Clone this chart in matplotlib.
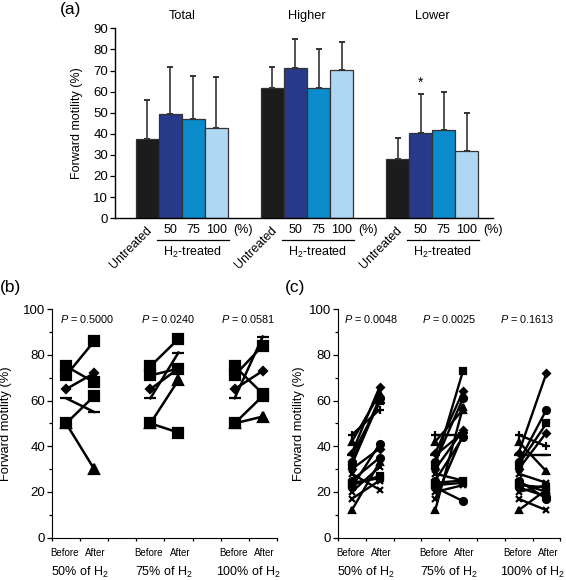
import numpy as np
import matplotlib
matplotlib.use("Agg")
import matplotlib.pyplot as plt
from matplotlib.lines import Line2D

plt.rcParams['font.family'] = ['Liberation Sans', 'DejaVu Sans']
plt.rcParams['mathtext.fontset'] = 'custom'
plt.rcParams['mathtext.rm'] = 'Liberation Sans'
plt.rcParams['mathtext.it'] = 'Liberation Sans:italic'

# ---- panel (a): mean forward motility with SD ----
groups = ["Total", "Higher", "Lower"]
conc_labels = ["50", "75", "100"]
means = {
    "Total":  [37.4, 49.5, 47.0, 42.6],
    "Higher": [61.8, 71.4, 61.6, 70.3],
    "Lower":  [28.0, 40.4, 41.7, 31.6],
}
sd_top = {
    "Total":  [56.0, 71.5, 67.2, 67.0],
    "Higher": [71.5, 85.2, 80.2, 83.6],
    "Lower":  [38.2, 58.8, 60.0, 49.8],
}
bar_colors = ["#1c1c1c", "#283a8a", "#0a8bcb", "#afd6f3"]
star_value = 64.2   # asterisk over Lower / 50 %

# ---- panel (b): before / after per donor ----
b_before = [75, 71, 65, 61, 50, 50]
b_after = {
    "50":  [68, 86, 72, 55, 62, 30],
    "75":  [87, 74, 74, 81, 46, 69],
    "100": [63, 84, 73, 88, 62, 53],
}
b_markers = ['s', 's', 'D', '_', 's', '^']
b_pvals = ["0.5000", "0.0240", "0.0581"]

# ---- panel (c) ----
c_before = [45, 42, 37, 36, 33, 32, 30, 28, 25, 24, 23, 22, 20, 17, 12]
c_after = {
    "50":  [56, 63, 66, 59, 61, 60, 39, 21, 35, 26, 27, 41, 31, 25, 33],
    "75":  [45, 56, 64, 46, 61, 73, 47, 25, 44, 25, 24, 16, 23, 45, 57],
    "100": [40, 29, 72, 36, 56, 50, 46, 24, 17, 20, 22, 18, 23, 12, 21],
}
c_markers = ['+', '^', 'D', '_', 'o', 's', 'D', 'x', 'o', 's', 's', 'o', 'x', 'x', '^']
c_pvals = ["0.0048", "0.0025", "0.1613"]

# relative marker sizes (diamonds are drawn smaller in the original)
size_scale = {'s': 1.0, 'D': 0.7, '^': 1.0, '_': 1.3, 'o': 1.0, 'x': 0.9, '+': 1.1}

fig = plt.figure(figsize=(5.66, 5.80), dpi=100)

# ================= (a) =================
ax = fig.add_axes([0.203, 0.624, 0.668, 0.327])
group_step = 5.435
first_left = 0.913
tr = ax.get_xaxis_transform()
for g, name in enumerate(groups):
    start = first_left + g * group_step
    xs = start + 0.5 + np.arange(4)
    ax.bar(xs, means[name], width=1.0, color=bar_colors, edgecolor="#333333",
           linewidth=0.9, zorder=2)
    err = np.array(sd_top[name]) - np.array(means[name])
    ax.errorbar(xs, means[name], yerr=[np.zeros(4), err], fmt='none',
                ecolor="#333333", elinewidth=1.2, capsize=2.2, capthick=1.4, zorder=1)
    ax.text(start + 2.0, 96, name, ha='center', va='center', fontsize=9.2)
    ax.text(start + 0.8, -0.035, "Untreated", rotation=45, ha='right', va='top',
            fontsize=8.8, transform=tr)
    for k, lab in enumerate(conc_labels):
        ax.text(xs[k + 1], -0.063, lab, ha='center', va='center', fontsize=9,
                transform=tr)
    ax.text(start + 4.65, -0.063, "(%)", ha='center', va='center', fontsize=9,
            transform=tr)
    ax.add_line(Line2D([start + 0.9, start + 4.05], [-0.113, -0.113], color='black',
                       lw=0.9, transform=tr, clip_on=False))
    ax.text(start + 2.45, -0.18, "H$_2$-treated", ha='center', va='center',
            fontsize=9, transform=tr)
ax.text(xs[1], star_value, "*", ha='center', va='center', fontsize=10)

ax.set_xlim(0, 16.43)
ax.set_ylim(0, 90)
ax.set_yticks(np.arange(0, 91, 10))
ax.set_xticks([])
ax.tick_params(axis='y', labelsize=9.5, length=3.5, width=0.9, direction='out', pad=1.5)
for s in ['top', 'right']:
    ax.spines[s].set_visible(False)
for s in ['left', 'bottom']:
    ax.spines[s].set_linewidth(1.0)
ax.set_ylabel("Forward motility (%)", fontsize=9)
ax.yaxis.set_label_coords(-0.085, 0.5)


def pair_panel(ax, before, after, markers, pvals, pvals_x, ms, lw, ylab_x):
    tr = ax.get_xaxis_transform()
    for gi, key in enumerate(["50", "75", "100"]):
        x0 = 0.5 + 3 * gi
        for i in range(len(before)):
            m = markers[i]
            ax.plot([x0, x0 + 1], [before[i], after[key][i]], color='black', lw=lw,
                    marker=m, ms=ms * size_scale[m], mew=1.6, mfc='black', mec='black',
                    clip_on=False, zorder=3)
        ax.text(x0 - 0.05, -0.067, "Before", ha='center', va='center', fontsize=7,
                transform=tr)
        ax.text(x0 + 1.05, -0.067, "After", ha='center', va='center', fontsize=7,
                transform=tr)
        ax.text(x0 + 0.5, -0.154, key + "% of H$_2$", ha='center', va='center',
                fontsize=9, transform=tr)
        ax.text(pvals_x[gi], 0.955, "$\\mathit{P}$ = " + pvals[gi], ha='center',
                va='center', fontsize=7.8, transform=ax.transAxes)
    ax.set_xlim(0, 8)
    ax.set_ylim(0, 100)
    ax.set_xticks(np.arange(0, 9))
    ax.set_xticklabels([])
    ax.set_yticks(np.arange(0, 101, 20))
    ax.set_yticks(np.arange(0, 101, 10), minor=True)
    ax.tick_params(axis='both', which='major', labelsize=9.5, length=3.5, width=0.9, pad=1.5)
    ax.tick_params(axis='y', which='minor', length=2.5, width=0.9)
    ax.tick_params(axis='x', length=2.5)
    for s in ['top', 'right']:
        ax.spines[s].set_visible(False)
    ax.set_ylabel("Forward motility (%)", fontsize=9.3)
    ax.yaxis.set_label_coords(ylab_x, 0.5)


# ================= (b) =================
axb = fig.add_axes([0.092, 0.073, 0.397, 0.394])
pair_panel(axb, b_before, b_after, b_markers, b_pvals,
           [0.156, 0.518, 0.875], ms=6.5, lw=1.8, ylab_x=-0.178)

# ================= (c) =================
axc = fig.add_axes([0.597, 0.073, 0.393, 0.394])
pair_panel(axc, c_before, c_after, c_markers, c_pvals,
           [0.151, 0.502, 0.849], ms=5, lw=1.7, ylab_x=-0.147)

fig.text(0.124, 0.983, "(a)", fontsize=12.5, ha='center', va='center')
fig.text(0.018, 0.505, "(b)", fontsize=12.5, ha='center', va='center')
fig.text(0.521, 0.505, "(c)", fontsize=12.5, ha='center', va='center')

fig.savefig("out.png", dpi=100)
